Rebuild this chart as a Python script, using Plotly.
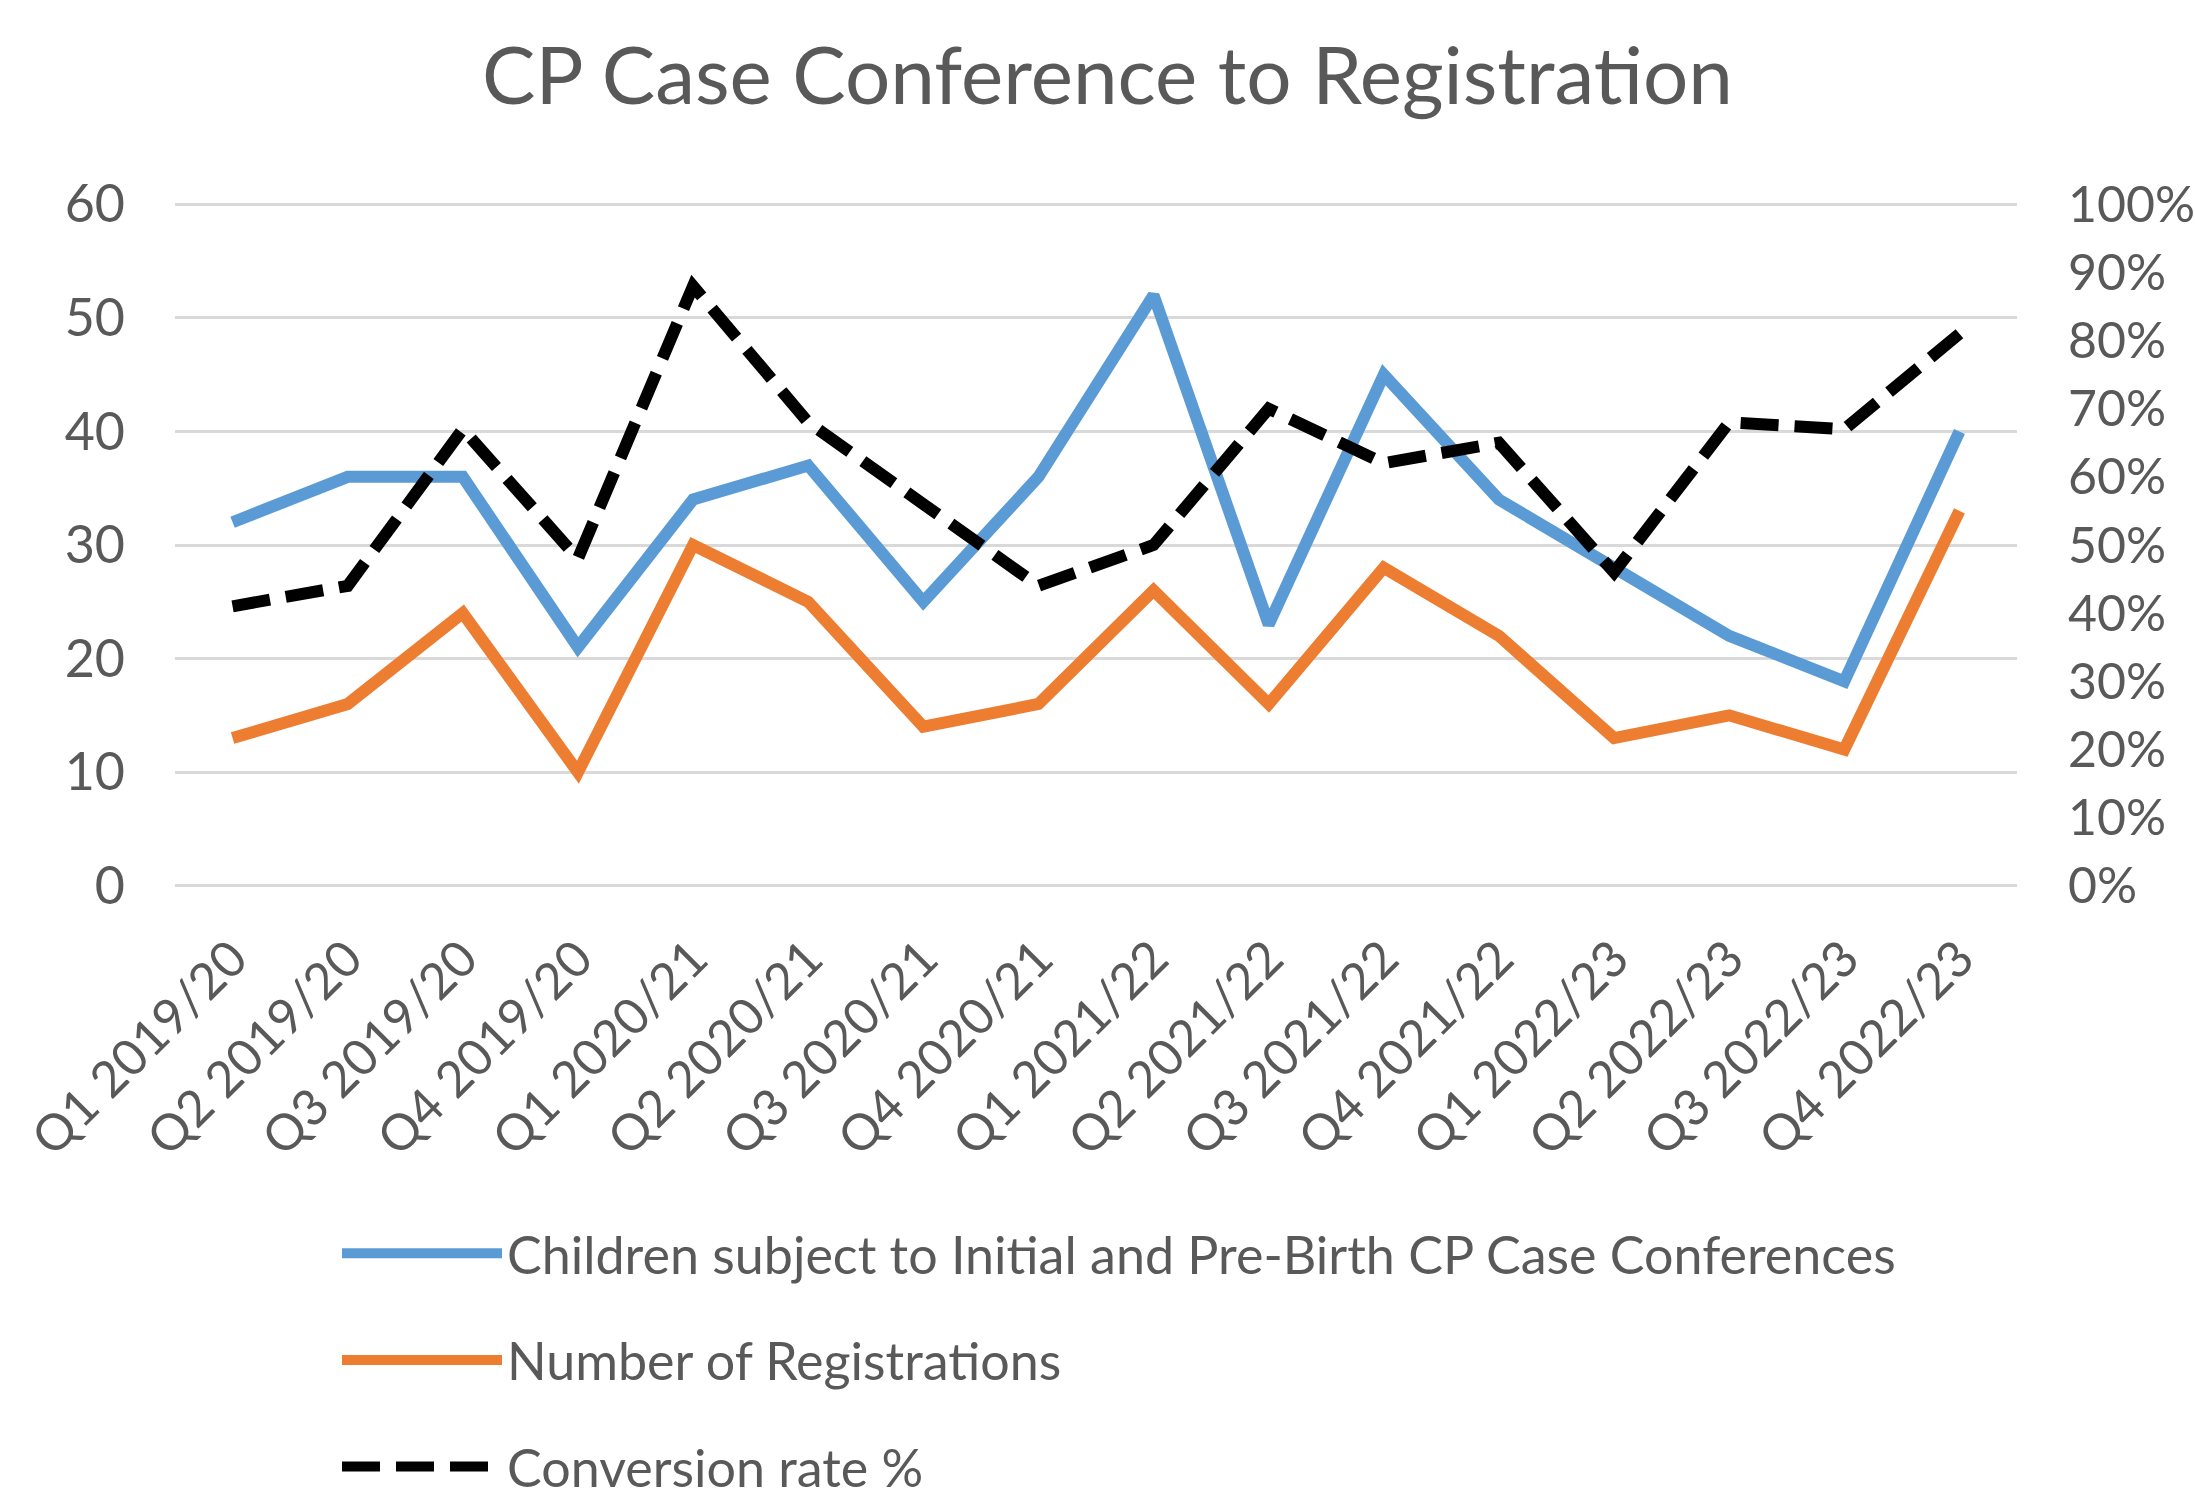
import plotly.graph_objects as go

categories = ["Q1 2019/20", "Q2 2019/20", "Q3 2019/20", "Q4 2019/20",
              "Q1 2020/21", "Q2 2020/21", "Q3 2020/21", "Q4 2020/21",
              "Q1 2021/22", "Q2 2021/22", "Q3 2021/22", "Q4 2021/22",
              "Q1 2022/23", "Q2 2022/23", "Q3 2022/23", "Q4 2022/23"]
conferences = [32, 36, 36, 21, 34, 37, 25, 36, 52, 23, 45, 34, 28, 22, 18, 40]
registrations = [13, 16, 24, 10, 30, 25, 14, 16, 26, 16, 28, 22, 13, 15, 12, 33]
conversion = [0.41, 0.44, 0.67, 0.48, 0.88, 0.68, 0.56, 0.44,
              0.50, 0.70, 0.62, 0.65, 0.46, 0.68, 0.67, 0.81]

left_ticks = [0, 10, 20, 30, 40, 50, 60]
right_ticks = [0, 0.1, 0.2, 0.3, 0.4, 0.5, 0.6, 0.7, 0.8, 0.9, 1.0]

FONT = "Lato"
GREY = "#595959"
W, H = 2195, 1489
PAD = 0.2  # small padding so the 0 and 60 gridlines are drawn

fig = go.Figure()
fig.add_trace(go.Scatter(
    x=categories, y=conferences, mode="lines",
    name="Children subject to Initial and Pre-Birth CP Case Conferences",
    line=dict(color="#5B9BD5", width=12), legendgroup="a"))
fig.add_trace(go.Scatter(
    x=categories, y=registrations, mode="lines",
    name="Number of Registrations",
    line=dict(color="#ED7D31", width=12), legendgroup="b"))
fig.add_trace(go.Scatter(
    x=categories, y=conversion, mode="lines", yaxis="y2",
    name="Conversion rate %",
    line=dict(color="#000000", width=12, dash="38px,16px"), legendgroup="c"))

fig.update_layout(
    width=W, height=H,
    paper_bgcolor="white", plot_bgcolor="white",
    margin=dict(l=175, r=178, t=202, b=601, autoexpand=False),
    font=dict(family=FONT, color=GREY, size=50),
    title=dict(text="CP Case Conference to Registration",
               font=dict(family=FONT, size=80, color=GREY),
               x=0.5 + 10 / W, xanchor="center", xref="container",
               y=1 - 76 / H, yanchor="middle", yref="container"),
    xaxis=dict(type="category", range=[-0.5, len(categories) - 0.5],
               showgrid=False, zeroline=False,
               showline=False, ticks="", tickangle=-45,
               ticklabelstandoff=30,
               tickfont=dict(family=FONT, size=50, color=GREY)),
    yaxis=dict(range=[-PAD, 60 + PAD], tickvals=left_ticks, showgrid=True,
               gridcolor="#D9D9D9", gridwidth=3, zeroline=False,
               showline=False, ticks="", ticklabelstandoff=49,
               tickfont=dict(family=FONT, size=52, color=GREY)),
    yaxis2=dict(range=[-PAD / 60, 1 + PAD / 60], tickvals=right_ticks,
                tickformat=".0%",
                overlaying="y", side="right", showgrid=False,
                zeroline=False, showline=False, ticks="",
                ticklabelstandoff=50,
                tickfont=dict(family=FONT, size=50, color=GREY)),
    showlegend=True,
    legend=dict(orientation="v", xref="container", yref="container",
                x=337 / W, xanchor="left", y=1 - 1213 / H, yanchor="top",
                font=dict(family=FONT, size=52, color=GREY),
                itemwidth=160, tracegroupgap=36,
                bgcolor="rgba(0,0,0,0)"),
)

fig.write_html("out.html",
               config={"displayModeBar": False},
               post_script="document.body.style.margin='0';")
